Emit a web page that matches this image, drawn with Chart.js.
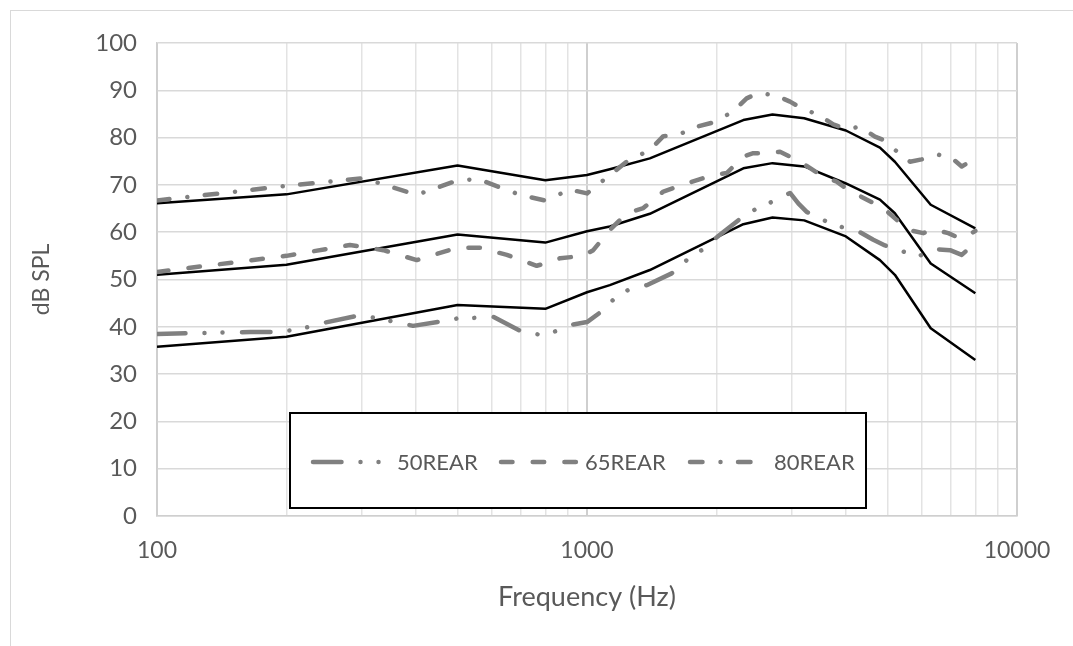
<!DOCTYPE html>
<html>
<head>
<meta charset="utf-8">
<script src="https://cdn.jsdelivr.net/npm/chart.js@4.4.0/dist/chart.umd.min.js"></script>
<style>
  html, body { margin: 0; padding: 0; background: #fff; overflow: hidden; }
  #frame { position: absolute; left: 10px; top: 10px; width: 1100px; height: 700px; border: 1px solid #d9d9d9; }
  #wrap { position: absolute; left: 0; top: 0; width: 1073px; height: 646px; }
</style>
</head>
<body>
<div id="frame"></div>
<div id="wrap"><canvas id="spl"></canvas></div>
<script>
// target curves (solid black)
var targetFreq = [100, 200, 500, 800, 1000, 1130, 1400, 2310, 2700, 3200, 4000, 4800, 5200, 6300, 8000];
var target80 = [66.1, 68.0, 74.1, 71.0, 72.1, 73.3, 75.6, 83.7, 84.9, 84.1, 81.5, 77.9, 74.9, 65.8, 60.8];
var target65 = [51.0, 53.1, 59.5, 57.8, 60.2, 61.2, 63.9, 73.5, 74.6, 73.9, 70.3, 66.9, 64.0, 53.4, 47.1];
var target50 = [35.8, 37.9, 44.6, 43.8, 47.3, 48.8, 52.0, 61.7, 63.1, 62.5, 59.1, 54.1, 51.0, 39.7, 33.0];

// measured REAR curves (grey)
var rear50Freq = [100, 165, 188, 206, 227, 246, 291, 324, 354, 394, 455, 502, 554, 606, 698, 777, 850, 929, 1000, 1072,
  1151, 1247, 1377, 1574, 1706, 1848, 2020, 2269, 2459, 2689, 2966, 3100, 3243, 3577, 3876, 4314, 4632, 4932, 5441, 5894,
  6445, 6985, 7438, 7986];
var rear50 = [38.5, 38.9, 38.9, 39.3, 40.0, 40.9, 42.3, 41.9, 41.1, 40.2, 41.1, 41.8, 41.9, 42.1, 39.2, 38.3, 39.1, 40.5, 41.0, 43.0,
  45.7, 47.8, 48.8, 51.3, 54.1, 56.2, 59.2, 62.8, 64.8, 66.4, 68.3, 66.1, 64.3, 62.4, 61.2, 60.0, 58.4, 57.2, 55.9, 54.9,
  56.4, 56.2, 55.2, 57.7];

var rear65Freq = [100, 200, 281, 336, 402, 498, 564, 651, 764, 799, 866, 980, 1034, 1131, 1237, 1352, 1505, 1706, 1967, 2113,
  2310, 2436, 2617, 2811, 3074, 3243, 3544, 3808, 4053, 4632, 4845, 5252, 5589, 6053, 6386, 6921, 7369, 7847, 8000];
var rear65 = [51.6, 55.0, 57.3, 56.2, 54.1, 56.7, 56.7, 55.2, 52.9, 53.4, 54.5, 55.0, 56.2, 60.5, 64.0, 65.1, 68.6, 70.3, 72.1, 72.5,
  76.0, 76.7, 76.7, 77.0, 75.3, 74.0, 71.7, 70.7, 68.9, 66.2, 65.4, 62.6, 60.5, 59.8, 60.6, 59.8, 58.7, 59.8, 60.3];

var rear80Freq = [100, 200, 302, 402, 502, 559, 698, 799, 913, 1000, 1131, 1237, 1401, 1505, 1617, 1767, 1963, 2188, 2351, 2502,
  2737, 2966, 3157, 3451, 3739, 4018, 4314, 4674, 4887, 5252, 5638, 6002, 6561, 7111, 7438, 7914];
var rear80 = [66.7, 69.8, 71.4, 67.9, 71.0, 71.2, 67.9, 66.7, 69.0, 68.2, 72.1, 74.9, 77.4, 80.3, 80.4, 82.1, 83.2, 85.5, 88.3, 89.4,
  89.0, 87.6, 86.2, 84.8, 82.8, 81.8, 82.3, 80.2, 79.5, 77.1, 74.9, 75.4, 76.4, 75.4, 73.9, 75.3];

var xTickValues = [100, 200, 300, 400, 500, 600, 700, 800, 900, 1000, 2000, 3000, 4000, 5000, 6000, 7000, 8000, 9000, 10000];
var xLabelValues = [100, 1000, 10000];

var textGrey = '#595959';
var fontFamily = 'Lato, "Noto Sans", sans-serif';

var dash50 = [28.5, 19, 0.01, 18, 0.01, 19.5];
var dash65 = [11.5, 20.2];
var dash80 = [12.5, 18, 0.01, 17.5];

function pts(xs, ys) {
    return xs.map(function (f, i) { return { x: f, y: ys[i] }; });
}

function greyLine(label, xs, ys, dash) {
    return {
        label: label,
        data: pts(xs, ys),
        borderColor: '#808080',
        borderWidth: 4.5,
        borderDash: dash,
        borderCapStyle: 'round',
        borderJoinStyle: 'round',
        pointRadius: 0,
        fill: false
    };
}

function blackLine(label, ys) {
    return {
        label: label,
        data: pts(targetFreq, ys),
        borderColor: '#000',
        borderWidth: 2.5,
        borderJoinStyle: 'round',
        pointRadius: 0,
        fill: false
    };
}

// legend box drawn inside the plot
var legendBox = {
    id: 'legendBox',
    afterDraw: function (chart) {
        var ctx = chart.ctx;
        var items = [
            { text: '50REAR', dash: dash50, x0: 313, x1: 381, tx: 397 },
            { text: '65REAR', dash: dash65, x0: 501, x1: 577, tx: 585 },
            { text: '80REAR', dash: dash80, x0: 690, x1: 755, tx: 774 }
        ];
        var cy = 462;
        ctx.save();
        ctx.fillStyle = '#fff';
        ctx.fillRect(290, 413, 576, 95);
        ctx.strokeStyle = '#000';
        ctx.lineWidth = 2;
        ctx.setLineDash([]);
        ctx.strokeRect(290, 413, 576, 95);
        items.forEach(function (it) {
            ctx.beginPath();
            ctx.strokeStyle = '#808080';
            ctx.lineWidth = 4.5;
            ctx.lineCap = 'round';
            ctx.setLineDash(it.dash);
            ctx.moveTo(it.x0, cy);
            ctx.lineTo(it.x1, cy);
            ctx.stroke();
            ctx.setLineDash([]);
            ctx.fillStyle = textGrey;
            ctx.font = '22px ' + fontFamily;
            ctx.textAlign = 'left';
            ctx.textBaseline = 'middle';
            ctx.fillText(it.text, it.tx, cy + 1);
        });
        ctx.restore();
    }
};

new Chart(document.getElementById('spl'), {
    type: 'line',
    data: {
        datasets: [
            greyLine('50REAR', rear50Freq, rear50, dash50),
            greyLine('65REAR', rear65Freq, rear65, dash65),
            greyLine('80REAR', rear80Freq, rear80, dash80),
            blackLine('Target 50', target50),
            blackLine('Target 65', target65),
            blackLine('Target 80', target80)
        ]
    },
    options: {
        responsive: true,
        maintainAspectRatio: false,
        animation: false,
        layout: { padding: { top: 43, right: 56, bottom: 0, left: 0 } },
        elements: { line: { tension: 0 } },
        plugins: {
            legend: { display: false },
            tooltip: { enabled: false }
        },
        scales: {
            x: {
                type: 'logarithmic',
                min: 100,
                max: 10000,
                afterBuildTicks: function (scale) {
                    scale.ticks = xTickValues.map(function (v) { return { value: v }; });
                },
                afterFit: function (scale) { scale.height = 130; },
                ticks: {
                    autoSkip: false,
                    maxRotation: 0,
                    padding: 21,
                    color: textGrey,
                    font: { family: fontFamily, size: 23 },
                    callback: function (v) {
                        return xLabelValues.indexOf(v) >= 0 ? String(v) : '';
                    }
                },
                grid: {
                    drawTicks: false,
                    color: function (c) {
                        return xLabelValues.indexOf(c.tick && c.tick.value) >= 0 ? '#cfcfcf' : '#e3e3e3';
                    },
                    lineWidth: function (c) {
                        return xLabelValues.indexOf(c.tick && c.tick.value) >= 0 ? 2 : 1.5;
                    }
                },
                border: { color: '#cfcfcf', width: 1.5 },
                title: {
                    display: true,
                    text: 'Frequency (Hz)',
                    color: textGrey,
                    font: { family: fontFamily, size: 27 },
                    padding: { bottom: 33 }
                }
            },
            y: {
                min: 0,
                max: 100,
                afterFit: function (scale) { scale.width = 157; },
                ticks: {
                    stepSize: 10,
                    padding: 20,
                    color: textGrey,
                    font: { family: fontFamily, size: 24 }
                },
                grid: { drawTicks: false, color: '#d9d9d9', lineWidth: 1.5 },
                border: { color: '#cfcfcf', width: 1.5 },
                title: {
                    display: true,
                    text: 'dB SPL',
                    color: textGrey,
                    font: { family: fontFamily, size: 23 },
                    padding: { top: 28 }
                }
            }
        }
    },
    plugins: [legendBox]
});
</script>
</body>
</html>
